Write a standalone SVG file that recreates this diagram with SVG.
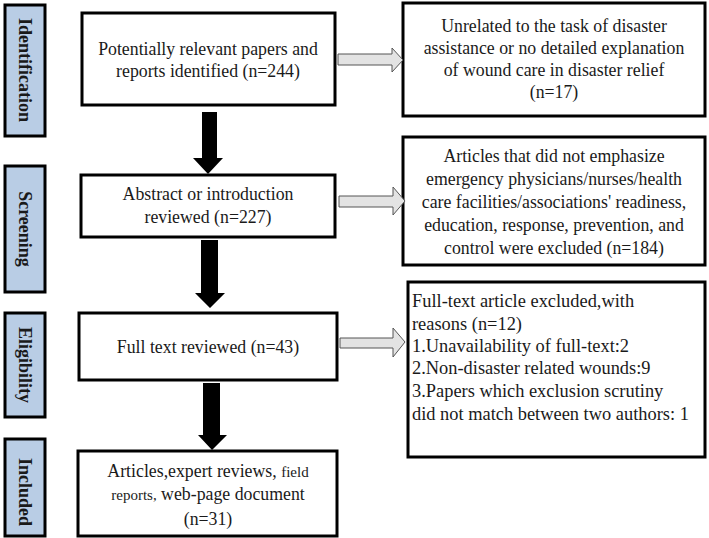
<svg xmlns="http://www.w3.org/2000/svg" width="709" height="538" viewBox="0 0 709 538">
<style>
.stage{fill:#b9cde5;stroke:#000;stroke-width:3}
.box{fill:#fff;stroke:#000;stroke-width:3}
.lbl{font-family:"Liberation Serif","Times New Roman",serif;font-weight:bold;font-size:18px;fill:#1a1a1a}
.t{font-family:"Liberation Serif","Times New Roman",serif;font-size:17.8px;fill:#1a1a1a}
.r3{font-size:18.4px}
.sm{font-size:15px}
.big{fill:#000}
.gray{fill:#e3e3e3;stroke:#555;stroke-width:1}
</style>
<rect width="709" height="538" fill="#fff"/>
<g id="stage-identification">
<rect class="stage" x="5" y="5" width="40" height="131"/>
<text class="lbl" transform="translate(25 70) rotate(90)" text-anchor="middle" dominant-baseline="central">Identification</text>
</g>
<g id="stage-screening">
<rect class="stage" x="5" y="166" width="40" height="126"/>
<text class="lbl" transform="translate(25 229) rotate(90)" text-anchor="middle" dominant-baseline="central">Screening</text>
</g>
<g id="stage-eligibility">
<rect class="stage" x="5" y="313" width="40" height="104"/>
<text class="lbl" transform="translate(25 365) rotate(90)" text-anchor="middle" dominant-baseline="central">Eligibility</text>
</g>
<g id="stage-included">
<rect class="stage" x="5" y="439" width="40" height="97"/>
<text class="lbl" transform="translate(25 492) rotate(90)" text-anchor="middle" dominant-baseline="central">Included</text>
</g>
<g id="n-identified">
<rect class="box" x="82" y="13" width="253" height="92"/>
<text class="t" x="208" y="55" text-anchor="middle">Potentially relevant papers and</text>
<text class="t" x="208" y="77" text-anchor="middle">reports identified (n=244)</text>
</g>
<g id="n-abstract">
<rect class="box" x="81" y="175" width="254" height="62"/>
<text class="t" x="208" y="200" text-anchor="middle">Abstract or introduction</text>
<text class="t" x="208" y="223" text-anchor="middle">reviewed (n=227)</text>
</g>
<g id="n-fulltext">
<rect class="box" x="79" y="313" width="258" height="67"/>
<text class="t" x="208" y="353" text-anchor="middle">Full text reviewed (n=43)</text>
</g>
<g id="n-included">
<rect class="box" x="78" y="451" width="259" height="85"/>
<text class="t" x="208" y="477" text-anchor="middle">Articles,expert reviews, <tspan class="sm">field</tspan></text>
<text class="t" x="208" y="500" text-anchor="middle"><tspan class="sm">reports,</tspan> web-page document</text>
<text class="t" x="208" y="525" text-anchor="middle">(n=31)</text>
</g>
<g id="n-excl1">
<rect class="box" x="403" y="3" width="302" height="113"/>
<text class="t" x="554" y="32" text-anchor="middle">Unrelated to the task of disaster</text>
<text class="t" x="554" y="54" text-anchor="middle">assistance or no detailed explanation</text>
<text class="t" x="554" y="76" text-anchor="middle">of wound care in disaster relief</text>
<text class="t" x="554" y="98" text-anchor="middle">(n=17)</text>
</g>
<g id="n-excl2">
<rect class="box" x="403" y="137" width="302" height="128"/>
<text class="t" x="554" y="162" text-anchor="middle">Articles that did not emphasize</text>
<text class="t" x="554" y="185" text-anchor="middle">emergency physicians/nurses/health</text>
<text class="t" x="554" y="208" text-anchor="middle">care facilities/associations' readiness,</text>
<text class="t" x="554" y="231" text-anchor="middle">education, response, prevention, and</text>
<text class="t" x="554" y="254" text-anchor="middle">control were excluded (n=184)</text>
</g>
<g id="n-excl3">
<rect class="box" x="408" y="282" width="297" height="175"/>
<text class="t r3" x="412" y="307">Full-text article excluded,with</text>
<text class="t r3" x="412" y="330">reasons (n=12)</text>
<text class="t r3" x="412" y="352">1.Unavailability of full-text:2</text>
<text class="t r3" x="412" y="374">2.Non-disaster related wounds:9</text>
<text class="t r3" x="412" y="397">3.Papers which exclusion scrutiny</text>
<text class="t r3" x="412" y="420">did not match between two authors: 1</text>
</g>
<g id="connectors">
<polygon class="big" points="202,112 217,112 217,158 223,158 208,174 193,158 202,158"/>
<polygon class="big" points="201,240 218,240 218,293 225,293 210,308 195,293 201,293"/>
<polygon class="big" points="203,383 220,383 220,435 227,435 212,450 198,435 203,435"/>
<polygon class="gray" points="338,54 392,54 392,48 403,60 392,72 392,65 338,65"/>
<polygon class="gray" points="339,196 393,196 393,187 405,201 393,215 393,207 339,207"/>
<polygon class="gray" points="340,338 393,338 393,328 405,342 393,357 393,348 340,348"/>
</g>
</svg>
